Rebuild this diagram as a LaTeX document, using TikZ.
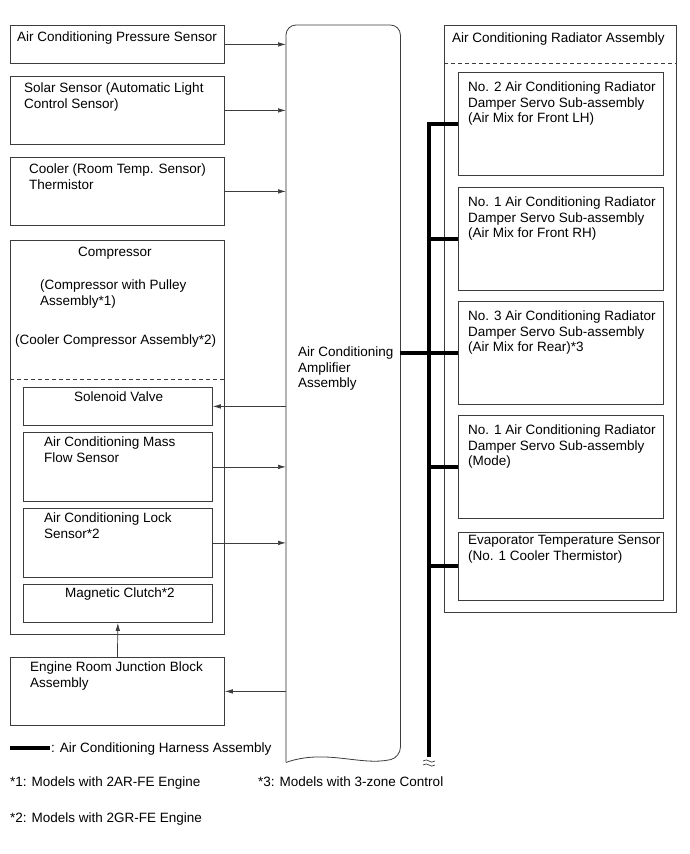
\documentclass[tikz,border=0pt]{standalone}
\usepackage{fontspec}
\setmainfont{Liberation Sans}
\usepackage{tikz}
\usetikzlibrary{arrows.meta, positioning, calc}
\definecolor{edge}{HTML}{3C3C3C}
\definecolor{softedge}{HTML}{B4B4B4}
\newcommand{\dfont}{\fontsize{13.5}{15.5}\selectfont}
\tikzset{
  part/.style={
    rectangle, anchor=north west, inner sep=0pt,
    draw=edge, line width=0.8pt,
  },
  txt/.style={anchor=north west, inner sep=0pt, align=left, font=\dfont},
  sig/.style={-{Latex[length=8pt, width=4.5pt]}, draw=edge, line width=0.7pt},
  harness/.style={line width=4pt, draw=black},
  sep/.style={draw=edge, line width=0.7pt, dash pattern=on 4pt off 3pt},
  brk/.style={draw=edge, line width=0.7pt},
}

\begin{document}
\begin{tikzpicture}[x=1pt, y=-1pt]

  \useasboundingbox (0,0) rectangle (689,854);

  % left side parts
  \node[part, minimum width=214pt, minimum height=38pt] (pres) at (10,25) {};
  \node[part, minimum width=214pt, minimum height=68pt] (solar) at (10,76) {};
  \node[part, minimum width=214pt, minimum height=68pt] (cooler) at (10,157) {};
  \node[part, minimum width=214pt, minimum height=394pt] (comp) at (10,240) {};
  \node[part, minimum width=189pt, minimum height=38pt] (sol) at (23,387) {};
  \node[part, minimum width=189pt, minimum height=69pt] (mass) at (23,432) {};
  \node[part, minimum width=189pt, minimum height=69pt] (lock) at (23,508) {};
  \node[part, minimum width=189pt, minimum height=38pt] (clutch) at (23,584) {};
  \node[part, minimum width=214pt, minimum height=68pt] (ejb) at (10,657) {};

  \node[txt] (pres-t) at (17,32) {Air Conditioning Pressure Sensor};
  \node[txt] (solar-t) at (24,83) {Solar Sensor (Automatic Light\\Control Sensor)};
  \node[txt] (cooler-t) at (29,164) {Cooler (Room Temp. Sensor)\\Thermistor};
  \node[txt] (comp-t) at (78,247) {Compressor};
  \node[txt] (comp-a) at (40,280) {(Compressor with Pulley\\Assembly*1)};
  \node[txt] (comp-b) at (15,335) {(Cooler Compressor Assembly*2)};
  \node[txt] (sol-t) at (74,392) {Solenoid Valve};
  \node[txt] (mass-t) at (44,437) {Air Conditioning Mass\\Flow Sensor};
  \node[txt] (lock-t) at (44,513) {Air Conditioning Lock\\Sensor*2};
  \node[txt] (clutch-t) at (65,588) {Magnetic Clutch*2};
  \node[txt] (ejb-t) at (30,662) {Engine Room Junction Block\\Assembly};

  \draw[sep] ([yshift=-139pt]comp.north west) -- ([yshift=-139pt]comp.north east);

  % amplifier
  \node[rectangle, anchor=north west, inner sep=0pt,
        minimum width=114pt, minimum height=737pt] (amp) at (286,25) {};
  \draw[draw=edge, line width=0.8pt, rounded corners=10pt]
    (amp.south west) -- (amp.north west) -- (amp.north east)
    -- ($(amp.south east)+(0,-5)$)
    .. controls ($(amp.south east)+(-40,4)$) and ($(amp.south west)+(40,-14)$) .. (amp.south west);
  \draw[draw=softedge, line width=1.2pt] (amp.south west) -- ($(amp.north west)+(0,12)$);
  \node[txt] (amp-t) at (298,347) {Air Conditioning\\Amplifier\\Assembly};

  % radiator assembly
  \node[part, minimum width=232pt, minimum height=587pt] (rad) at (444,25) {};
  \node[part, minimum width=205pt, minimum height=103pt] (r1) at (458,72) {};
  \node[part, minimum width=205pt, minimum height=103pt] (r2) at (458,187) {};
  \node[part, minimum width=205pt, minimum height=103pt] (r3) at (458,301) {};
  \node[part, minimum width=205pt, minimum height=103pt] (r4) at (458,415) {};
  \node[part, minimum width=205pt, minimum height=68pt] (r5) at (458,532) {};
  \draw[sep] ([yshift=-38pt]rad.north west) -- ([yshift=-38pt]rad.north east);

  \node[txt] (rad-t) at (452,33) {Air Conditioning Radiator Assembly};
  \node[txt] (r1-t) at (468,82) {No. 2 Air Conditioning Radiator\\Damper Servo Sub-assembly\\(Air Mix for Front LH)};
  \node[txt] (r2-t) at (468,197) {No. 1 Air Conditioning Radiator\\Damper Servo Sub-assembly\\(Air Mix for Front RH)};
  \node[txt] (r3-t) at (468,311) {No. 3 Air Conditioning Radiator\\Damper Servo Sub-assembly\\(Air Mix for Rear)*3};
  \node[txt] (r4-t) at (468,425) {No. 1 Air Conditioning Radiator\\Damper Servo Sub-assembly\\(Mode)};
  \node[txt] (r5-t) at (468,535) {Evaporator Temperature Sensor\\(No. 1 Cooler Thermistor)};

  % signal lines
  \draw[sig] (pres.east) -- (pres.east -| amp.west);
  \draw[sig] (solar.east) -- (solar.east -| amp.west);
  \draw[sig] (cooler.east) -- (cooler.east -| amp.west);
  \draw[sig] (sol.east -| amp.west) -- (sol.east);
  \draw[sig] (mass.east) -- (mass.east -| amp.west);
  \draw[sig] (lock.east) -- (lock.east -| amp.west);
  \draw[sig] (ejb.east -| amp.west) -- (ejb.east);
  \draw[sig] (ejb.north) -- (clutch.south);

  % harness
  \coordinate (hTop) at ($(r1.west)+(-29,0)$);
  \coordinate (hBot) at (hTop |- 0,757);
  \draw[harness] (r1.west) -- (hTop) -- (hBot);
  \foreach \r in {r2,r3,r4,r5}
    \draw[harness] (\r.west -| hTop) -- (\r.west);
  \draw[harness] (amp.east |- r3.west) -- (r3.west);
  \draw[brk] ($(hBot)+(-6,4)$) .. controls ($(hBot)+(-1,0)$) and ($(hBot)+(1,8)$) .. ($(hBot)+(6,4)$);
  \draw[brk] ($(hBot)+(-6,8)$) .. controls ($(hBot)+(-1,4)$) and ($(hBot)+(1,12)$) .. ($(hBot)+(6,8)$);

  % legend and notes
  \coordinate (legA) at (10,748);
  \coordinate (legB) at (50,748);
  \draw[harness] (legA) -- (legB);
  \node[txt] (leg-t) at (51,743) {: Air Conditioning Harness Assembly};
  \node[txt] (note1) at (10,777) {*1: Models with 2AR-FE Engine};
  \node[txt] (note3) at (258,777) {*3: Models with 3-zone Control};
  \node[txt] (note2) at (10,813) {*2: Models with 2GR-FE Engine};

\end{tikzpicture}
\end{document}
